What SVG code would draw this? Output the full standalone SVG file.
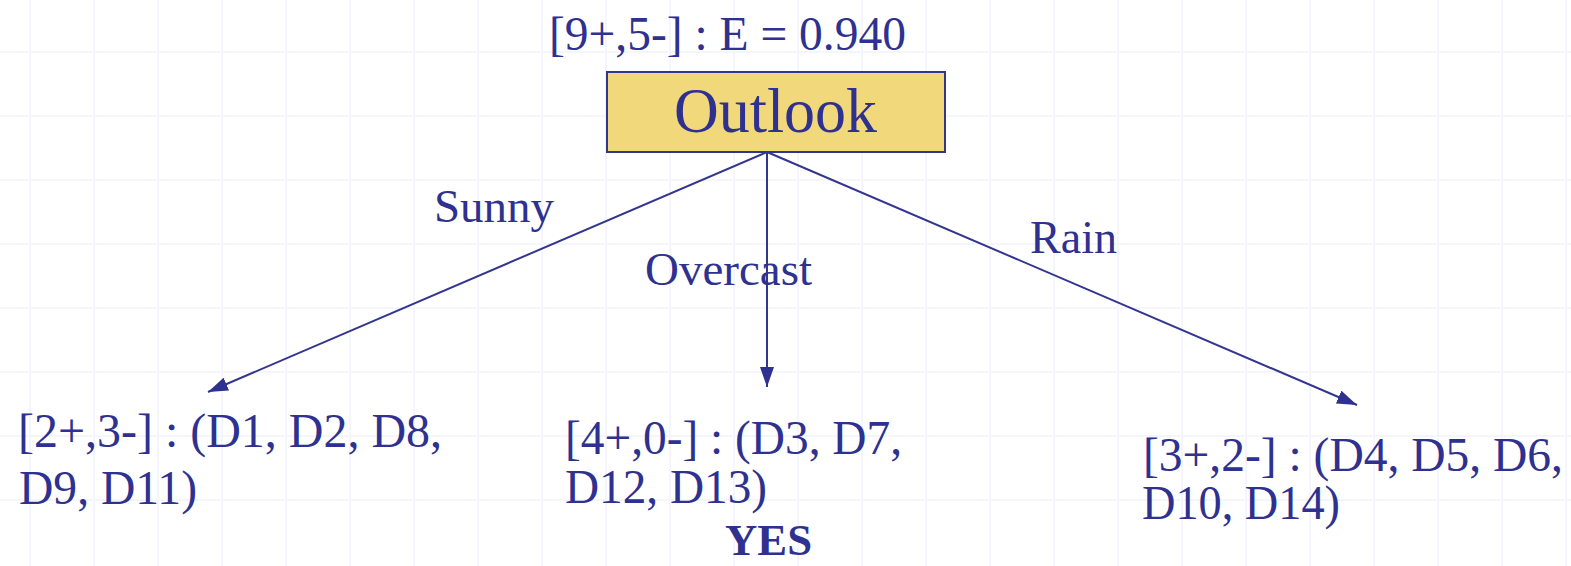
<svg xmlns="http://www.w3.org/2000/svg" width="1571" height="566" viewBox="0 0 1571 566">
<defs>
<style>
.t{font-family:"Liberation Serif","Times New Roman",serif;fill:#2E3190;}
.lbl{font-size:46px;}
.leaf{font-size:48px;}
.edge{stroke:#33368F;stroke-width:2;fill:none;marker-end:url(#ah);}
.grid line{stroke:#F5F6FD;stroke-width:2;}
</style>
<marker id="ah" viewBox="0 0 20 14" refX="20" refY="7" markerWidth="20" markerHeight="14" markerUnits="userSpaceOnUse" orient="auto">
<path d="M0,0 L20,7 L0,14 Z" fill="#2E3190"/>
</marker>
</defs>
<rect x="0" y="0" width="1571" height="566" fill="#FFFFFF"/>
<g class="grid">
<line x1="0" y1="52" x2="1571" y2="52"/>
<line x1="0" y1="116" x2="1571" y2="116"/>
<line x1="0" y1="180" x2="1571" y2="180"/>
<line x1="0" y1="244" x2="1571" y2="244"/>
<line x1="0" y1="308" x2="1571" y2="308"/>
<line x1="0" y1="372" x2="1571" y2="372"/>
<line x1="0" y1="436" x2="1571" y2="436"/>
<line x1="0" y1="500" x2="1571" y2="500"/>
<line x1="30" y1="0" x2="30" y2="566"/>
<line x1="94" y1="0" x2="94" y2="566"/>
<line x1="158" y1="0" x2="158" y2="566"/>
<line x1="222" y1="0" x2="222" y2="566"/>
<line x1="286" y1="0" x2="286" y2="566"/>
<line x1="350" y1="0" x2="350" y2="566"/>
<line x1="414" y1="0" x2="414" y2="566"/>
<line x1="478" y1="0" x2="478" y2="566"/>
<line x1="542" y1="0" x2="542" y2="566"/>
<line x1="606" y1="0" x2="606" y2="566"/>
<line x1="670" y1="0" x2="670" y2="566"/>
<line x1="734" y1="0" x2="734" y2="566"/>
<line x1="798" y1="0" x2="798" y2="566"/>
<line x1="862" y1="0" x2="862" y2="566"/>
<line x1="926" y1="0" x2="926" y2="566"/>
<line x1="990" y1="0" x2="990" y2="566"/>
<line x1="1054" y1="0" x2="1054" y2="566"/>
<line x1="1118" y1="0" x2="1118" y2="566"/>
<line x1="1182" y1="0" x2="1182" y2="566"/>
<line x1="1246" y1="0" x2="1246" y2="566"/>
<line x1="1310" y1="0" x2="1310" y2="566"/>
<line x1="1374" y1="0" x2="1374" y2="566"/>
<line x1="1438" y1="0" x2="1438" y2="566"/>
<line x1="1502" y1="0" x2="1502" y2="566"/>
<line x1="1566" y1="0" x2="1566" y2="566"/>
</g>
<g id="connectors">
<line class="edge" x1="767" y1="152" x2="208" y2="392"/>
<line class="edge" x1="767" y1="152" x2="767" y2="387"/>
<line class="edge" x1="767" y1="152" x2="1357" y2="405"/>
<text class="t lbl" x="434" y="222" textLength="120" lengthAdjust="spacingAndGlyphs">Sunny</text>
<text class="t lbl" x="645" y="285" textLength="167" lengthAdjust="spacingAndGlyphs">Overcast</text>
<text class="t lbl" x="1030" y="253" textLength="87" lengthAdjust="spacingAndGlyphs">Rain</text>
</g>
<g id="root">
<text class="t leaf" x="549" y="50" textLength="357" lengthAdjust="spacingAndGlyphs">[9+,5-] : E = 0.940</text>
<rect x="607" y="72" width="338" height="80" fill="#F1D87A" stroke="#33368F" stroke-width="2"/>
<text class="t" x="674" y="132" font-size="63" textLength="203" lengthAdjust="spacingAndGlyphs">Outlook</text>
</g>
<g id="sunny">
<text class="t leaf" x="18" y="447" textLength="424" lengthAdjust="spacingAndGlyphs">[2+,3-] : (D1, D2, D8,</text>
<text class="t leaf" x="19" y="504" textLength="178" lengthAdjust="spacingAndGlyphs">D9, D11)</text>
</g>
<g id="overcast">
<text class="t leaf" x="565" y="454" textLength="337" lengthAdjust="spacingAndGlyphs">[4+,0-] : (D3, D7,</text>
<text class="t leaf" x="565" y="503" textLength="202" lengthAdjust="spacingAndGlyphs">D12, D13)</text>
<text class="t" x="725" y="555" font-size="44" font-weight="bold" textLength="87" lengthAdjust="spacingAndGlyphs">YES</text>
</g>
<g id="rain">
<text class="t leaf" x="1143" y="471" textLength="420" lengthAdjust="spacingAndGlyphs">[3+,2-] : (D4, D5, D6,</text>
<text class="t leaf" x="1142" y="519" textLength="198" lengthAdjust="spacingAndGlyphs">D10, D14)</text>
</g>
</svg>
